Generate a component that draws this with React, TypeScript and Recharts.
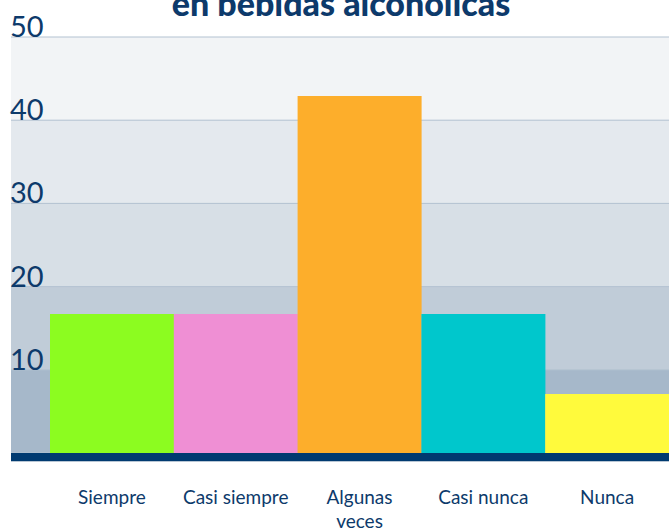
import { BarChart, Bar, Cell, XAxis, YAxis, ReferenceLine, CartesianGrid } from "recharts";

const categories = ["Siempre", "Casi siempre", "Algunas veces", "Casi nunca", "Nunca"];
const percentages = [16.7, 16.7, 42.9, 16.7, 7.1];
const barColors = ["#8cfc20", "#ef8fd4", "#fdae2b", "#00c7cc", "#fffa3c"];
const yTicks = [0, 10, 20, 30, 40, 50];
// stripes from top (40-50) down to (0-10)
const bandColors = ["#f2f4f6", "#e4e9ee", "#d7dfe6", "#c0ccd8", "#a6b8ca"];

const NAVY = "#0d3a6b";
const FONT = "Lato, 'Open Sans', sans-serif";

const data = categories.map((name, i) => ({ name, value: percentages[i] }));

function YTick(props: any) {
  const { y, payload } = props;
  if (payload.value === 0) return null;
  return (
    <text x={10} y={y} fill={NAVY} fontSize={29} fontFamily={FONT} fontWeight={400}>
      {payload.value}
    </text>
  );
}

function XTick(props: any) {
  const { x, y, payload } = props;
  const lines = payload.value === "Algunas veces" ? ["Algunas", "veces"] : [payload.value];
  return (
    <text x={x} y={y + 43} textAnchor="middle" fill={NAVY} fontSize={19} fontFamily={FONT}>
      {lines.map((l, i) => (
        <tspan key={l} x={x} dy={i === 0 ? 0 : 24}>
          {l}
        </tspan>
      ))}
    </text>
  );
}

export default function App() {
  return (
    <div style={{ position: "absolute", left: 0, top: 0, width: 669, height: 528, background: "#fff", overflow: "hidden" }}>
      <div
        style={{
          position: "absolute",
          top: -17,
          left: 0,
          width: 682,
          textAlign: "center",
          color: NAVY,
          fontFamily: FONT,
          fontWeight: 900,
          fontSize: 34,
          lineHeight: "40px",
          zIndex: 2,
        }}
      >
        en bebidas alcohólicas
      </div>
      <BarChart
        width={669}
        height={528}
        data={data}
        margin={{ top: 37, right: 0, left: 0, bottom: 0 }}
        barCategoryGap={0}
      >
        <CartesianGrid
          vertical={false}
          stroke="#b3c2d1"
          horizontalFill={bandColors}
          fillOpacity={1}
        />
        <XAxis
          dataKey="name"
          height={75}
          padding={{ left: 39, right: 0 }}
          axisLine={false}
          tickLine={false}
          interval={0}
          tick={<XTick />}
        />
        <YAxis
          domain={[0, 50]}
          ticks={yTicks}
          width={11}
          axisLine={false}
          tickLine={false}
          tick={<YTick />}
        />
        <Bar dataKey="value" isAnimationActive={false}>
          {data.map((d, i) => (
            <Cell key={d.name} fill={barColors[i]} />
          ))}
        </Bar>
        <ReferenceLine
          y={0}
          shape={(p: any) => (
            <g>
              <line x1={p.x1} x2={p.x2} y1={p.y1 + 4} y2={p.y1 + 4} stroke="#003a70" strokeWidth={8} />
              <line x1={p.x1} x2={p.x2} y1={p.y1 + 8.5} y2={p.y1 + 8.5} stroke="#b8c6d4" strokeWidth={1} />
            </g>
          )}
        />
      </BarChart>
    </div>
  );
}
